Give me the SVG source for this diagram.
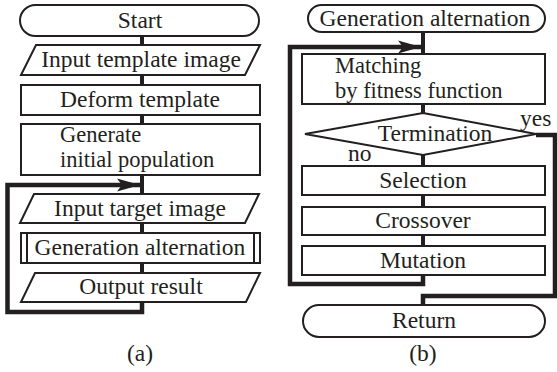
<svg xmlns="http://www.w3.org/2000/svg" width="557" height="372" viewBox="0 0 557 372">
<style>
.box{fill:#fff;stroke:#231f20;stroke-width:2}
.t{font-family:'Liberation Serif','Times New Roman',serif;font-size:23.5px;fill:#231f20}
.m{font-size:22.5px}
.c{text-anchor:middle}
.ln{fill:none;stroke:#231f20;stroke-width:4}
.lp{fill:none;stroke:#231f20;stroke-width:4.5}
</style>
<defs>
<marker id="ah" markerUnits="userSpaceOnUse" viewBox="-24 -8 26 16" refX="0" refY="0" markerWidth="26" markerHeight="16" orient="auto">
<path d="M0,0 L-23,-6.5 L-18,0 L-23,6.5 Z" fill="#231f20"/>
</marker>
</defs>
<rect width="557" height="372" fill="#fff"/>
<g id="connectors">
<path class="ln" d="M142,36V45M142,75V85M142,115V124M142,175V194M142,223V233M142,263V273"/>
<path class="lp" d="M142,302V312H7.5V185H140" marker-end="url(#ah)"/>
<path class="ln" d="M423,32V54M423,104V113M423,155V166M423,195V207M423,235V246"/>
<path class="lp" d="M423,275V284H290V47H421" marker-end="url(#ah)"/>
<path class="lp" d="M536,135H555V296H423V305"/>
</g>
<g id="a-start"><rect class="box" x="20" y="5" width="239" height="31" rx="15.5"/><text class="t c" x="140" y="28">Start</text></g>
<g id="a-input-template"><polygon class="box" points="36,45 260,45 245,75 21,75"/><text class="t c" x="141" y="67">Input template image</text></g>
<g id="a-deform"><rect class="box" x="21" y="85" width="239" height="30"/><text class="t c" x="140" y="107">Deform template</text></g>
<g id="a-generate"><rect class="box" x="21" y="124" width="239" height="51"/><text class="t m" x="60" y="142">Generate</text><text class="t m" x="60" y="167">initial population</text></g>
<g id="a-input-target"><polygon class="box" points="34,194 259,194 245,223 20,223"/><text class="t c" x="140" y="216">Input target image</text></g>
<g id="a-generation"><rect class="box" x="21" y="233" width="239" height="30"/><path class="box" d="M27,233V263M254,233V263"/><text class="t c" x="140" y="255">Generation alternation</text></g>
<g id="a-output"><polygon class="box" points="35,273 260,273 246,302 21,302"/><text class="t c" x="141" y="294">Output result</text></g>
<text class="t c" x="140" y="361">(a)</text>
<g id="b-start"><rect class="box" x="308" y="5" width="237" height="27" rx="13.5"/><text class="t c" x="425" y="26">Generation alternation</text></g>
<g id="b-matching"><rect class="box" x="302" y="54" width="243" height="50"/><text class="t m" x="335" y="73">Matching</text><text class="t m" x="335" y="98">by fitness function</text></g>
<g id="b-termination"><polygon class="box" points="423,113 536,134 423,155 305,134"/><text class="t c" x="435" y="141">Termination</text></g>
<text class="t" x="520" y="126">yes</text>
<text class="t" x="348" y="161">no</text>
<g id="b-selection"><rect class="box" x="302" y="166" width="243" height="29"/><text class="t c" x="423" y="188">Selection</text></g>
<g id="b-crossover"><rect class="box" x="302" y="207" width="243" height="28"/><text class="t c" x="423" y="228">Crossover</text></g>
<g id="b-mutation"><rect class="box" x="302" y="246" width="243" height="29"/><text class="t c" x="423" y="268">Mutation</text></g>
<g id="b-return"><rect class="box" x="303" y="305" width="242" height="32" rx="16"/><text class="t c" x="424" y="328">Return</text></g>
<text class="t c" x="423" y="361">(b)</text>
</svg>
